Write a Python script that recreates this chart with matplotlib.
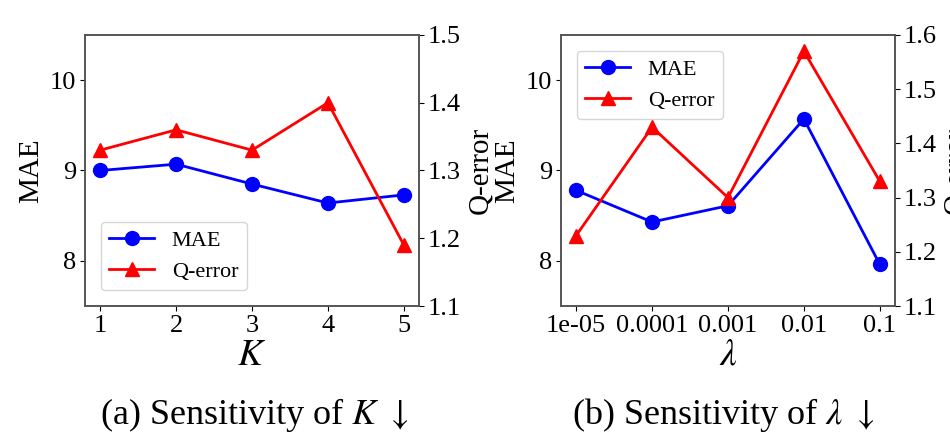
import matplotlib
matplotlib.use("Agg")
import matplotlib.pyplot as plt

plt.rcParams['font.family'] = ['Liberation Serif', 'DejaVu Serif']
plt.rcParams['mathtext.fontset'] = 'stix'

# datos
k_values = [1, 2, 3, 4, 5]
k_mae = [9.00, 9.07, 8.85, 8.64, 8.73]
k_qerror = [1.33, 1.36, 1.33, 1.40, 1.19]

lam_labels = ['1e-05', '0.0001', '0.001', '0.01', '0.1']
lam_mae = [8.78, 8.43, 8.61, 9.57, 7.96]
lam_qerror = [1.23, 1.43, 1.30, 1.57, 1.33]

mae_ticks = [8, 9, 10]


def draw_panel(ax, x, mae, qerr, q_lim, q_ticks, xlabel, legend_loc):
    l1, = ax.plot(x, mae, color='blue', marker='o', markersize=10, linewidth=2, label='MAE')
    ax.set_ylim(7.5, 10.5)
    ax.set_yticks(mae_ticks)
    ax.set_ylabel('MAE', fontsize=21)
    ax.set_xlabel(xlabel, fontsize=27, labelpad=1)
    ax.tick_params(labelsize=19, pad=3)

    ax2 = ax.twinx()
    l2, = ax2.plot(x, qerr, color='red', marker='^', markersize=10, linewidth=2, label='Q-error')
    ax2.set_ylim(*q_lim)
    ax2.set_yticks(q_ticks)
    ax2.set_ylabel('Q-error', fontsize=21)
    ax2.tick_params(labelsize=19, pad=3)

    for a in (ax, ax2):
        for s in a.spines.values():
            s.set_color('#555555')
            s.set_linewidth(1.2)

    ax.legend([l1, l2], ['MAE', 'Q-error'], loc=legend_loc, fontsize=16,
              handlelength=2.0, handletextpad=0.8, borderpad=0.4, labelspacing=0.45,
              borderaxespad=0.7)
    return ax2


fig = plt.figure(figsize=(9.5, 4.33), dpi=100)
ax_a = fig.add_axes([0.0895, 0.2933, 0.3516, 0.6259])
ax_b = fig.add_axes([0.5905, 0.2933, 0.3516, 0.6259])

draw_panel(ax_a, k_values, k_mae, k_qerror, (1.1, 1.5), [1.1, 1.2, 1.3, 1.4, 1.5],
           '$K$', 'lower left')
ax_a.set_xticks(k_values)

draw_panel(ax_b, lam_labels, lam_mae, lam_qerror, (1.1, 1.6), [1.1, 1.2, 1.3, 1.4, 1.5, 1.6],
           r'$\lambda$', 'upper left')

fig.text(0.268, 0.02, r'(a) Sensitivity of $K$ $\downarrow$', ha='center', va='baseline', fontsize=26)
fig.text(0.761, 0.02, r'(b) Sensitivity of $\lambda$ $\downarrow$', ha='center', va='baseline', fontsize=26)

fig.savefig('out.png', dpi=100)
